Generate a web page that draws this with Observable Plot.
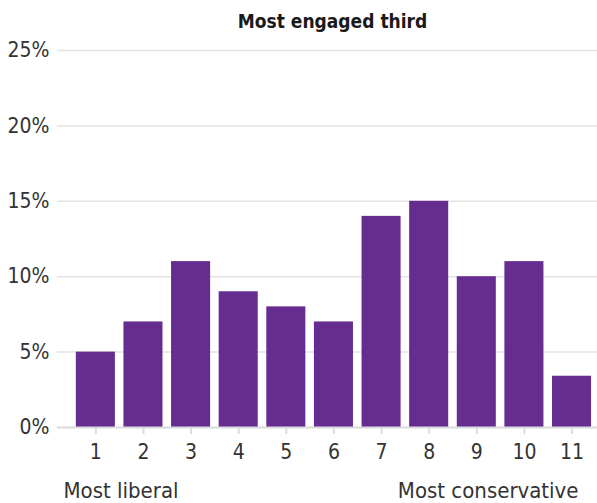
<!DOCTYPE html>
<html>
<head>
<meta charset="utf-8">
<script src="https://cdn.jsdelivr.net/npm/d3@7"></script>
<script src="https://cdn.jsdelivr.net/npm/@observablehq/plot@0.6"></script>
<style>
  html, body { margin: 0; padding: 0; background: #fff; }
  #chart svg { display: block; }
</style>
</head>
<body>
<div id="chart"></div>
<script>
const categories = ["1", "2", "3", "4", "5", "6", "7", "8", "9", "10", "11"];
const shares = [5, 7, 11, 9, 8, 7, 14, 15, 10, 11, 3.4];
const yTicks = [0, 5, 10, 15, 20, 25];
const title = "Most engaged third";
const leftLabel = "Most liberal";
const rightLabel = "Most conservative";

const data = categories.map((c, i) => ({category: c, share: shares[i]}));
const font = "'Liberation Sans Narrow', 'DejaVu Sans Condensed', 'Roboto Condensed', sans-serif";

const chart = Plot.plot({
  width: 597,
  height: 503,
  marginTop: 50,
  marginBottom: 76,
  marginLeft: 57,
  marginRight: 0,
  style: {fontFamily: font, fontSize: "21px", color: "#333", background: "#fff"},
  x: {type: "band", domain: categories, paddingInner: 0.18, paddingOuter: 0.26, align: 0.76, round: false, label: null},
  y: {domain: [0, 25], label: null},
  marks: [
    Plot.ruleY(yTicks, {stroke: "#e3e3e3", strokeWidth: 1.5}),
    Plot.barY(data, {x: "category", y: "share", fill: "#652d8f"}),
    Plot.ruleY([0], {stroke: "#dcdcdc", strokeWidth: 2}),
    Plot.axisY({ticks: yTicks, tickSize: 0, tickPadding: 8, tickFormat: d => d + "%", fontSize: 21, fill: "#333", label: null}),
    Plot.axisX({tickSize: 7, tickPadding: 10, stroke: "#dcdcdc", strokeWidth: 2, fontSize: 21, fill: "#333", label: null}),
    Plot.text([title], {frameAnchor: "top", dx: 5, dy: -23, lineAnchor: "bottom", fontSize: 19, fontWeight: "bold", fill: "#1a1a1a"}),
    Plot.text([leftLabel], {frameAnchor: "bottom-left", textAnchor: "start", dx: 6, dy: 70, lineAnchor: "bottom", fontSize: 22, fill: "#333"}),
    Plot.text([rightLabel], {frameAnchor: "bottom-right", textAnchor: "end", dx: -19, dy: 70, lineAnchor: "bottom", fontSize: 22, fill: "#333"})
  ]
});
document.getElementById("chart").append(chart);
</script>
</body>
</html>
